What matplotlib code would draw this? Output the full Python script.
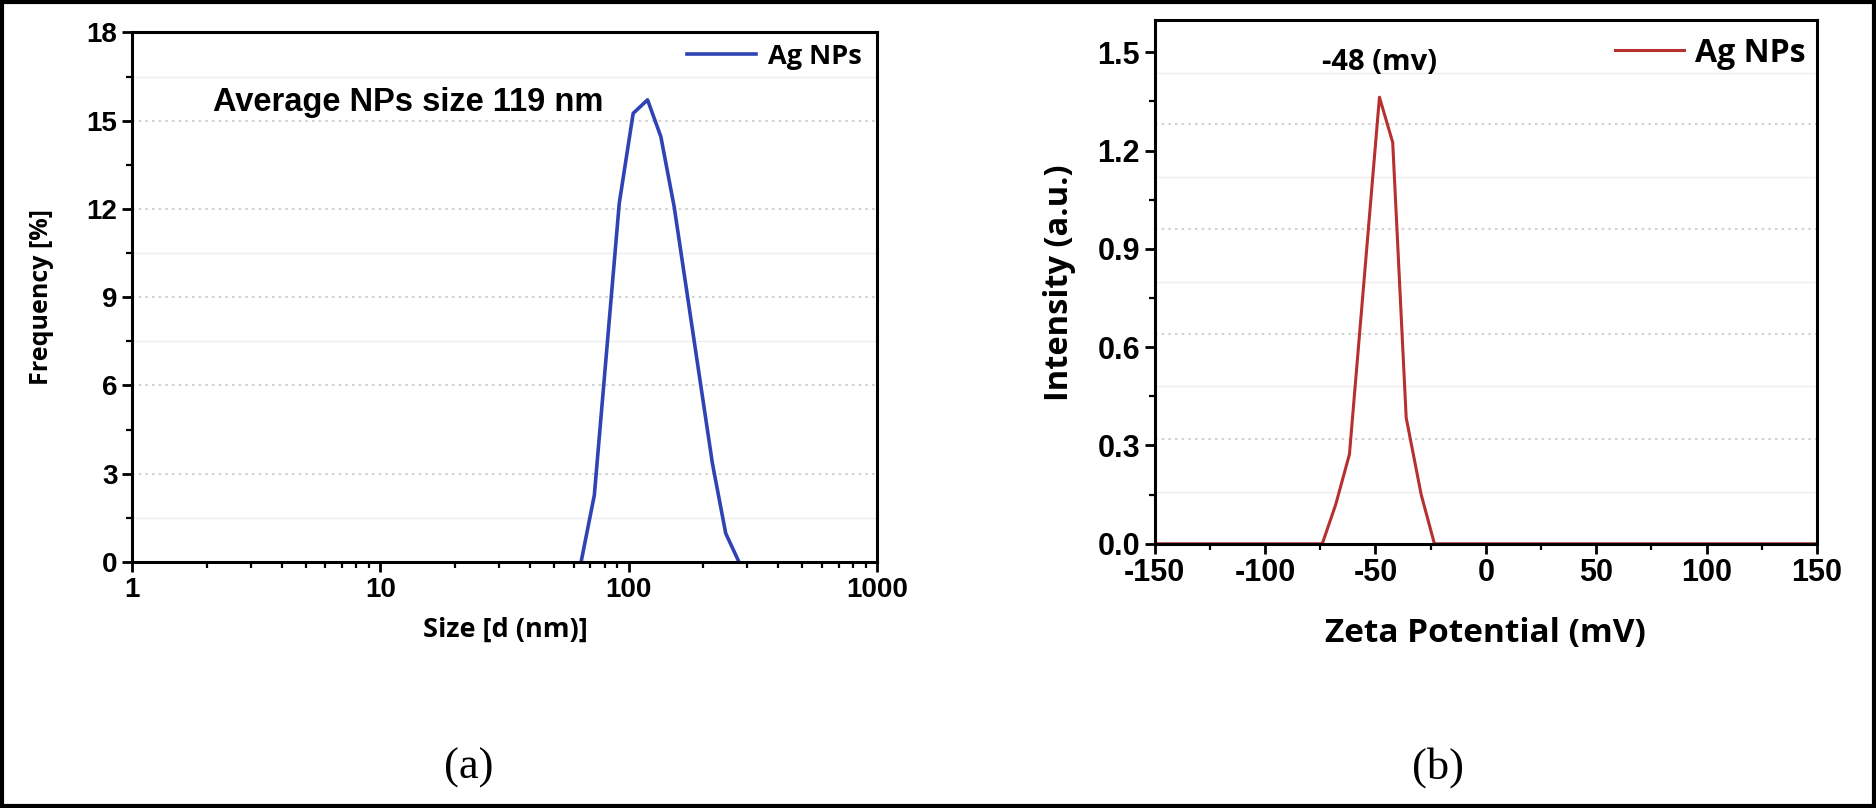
import matplotlib
matplotlib.use("Agg")
import matplotlib.pyplot as plt
from matplotlib.patches import Rectangle
from matplotlib.ticker import MultipleLocator, LogLocator, NullFormatter

# (a) DLS size distribution
size_nm = [64.3, 72.7, 91.6, 104.2, 119.1, 134.7, 152.4, 217.3, 245.9, 278.0]
frequency = [0.0, 2.27, 12.19, 15.25, 15.71, 14.46, 12.08, 3.35, 0.97, 0.0]

# (b) zeta potential distribution
zeta_mv = [-150, -74.1, -68.0, -61.8, -48.2, -42.2, -36.1, -29.3, -23.3, 150]
intensity = [0.0, 0.0, 0.12, 0.273, 1.363, 1.225, 0.385, 0.150, 0.0, 0.0]

size_ticks = [1, 10, 100, 1000]
freq_ticks = [0, 3, 6, 9, 12, 15, 18]
zeta_ticks = [-150, -100, -50, 0, 50, 100, 150]
int_ticks = [0.0, 0.3, 0.6, 0.9, 1.2, 1.5]

# faint grid lines as they appear in the scanned figure
grid_a_dotted = [3, 6, 9, 12, 15]
grid_a_solid = [1.5, 7.5, 10.5, 16.5]
grid_b_dotted = [0.32, 0.64, 0.96, 1.28]
grid_b_solid = [0.157, 0.481, 0.80, 1.119, 1.437]

TICK_FONT = "Liberation Sans"
LABEL_FONT = "Open Sans"

fig = plt.figure(figsize=(18.76, 8.08), dpi=100)
fig.patch.set_facecolor("white")

ax1 = fig.add_axes([0.0704, 0.3045, 0.3971, 0.6553])
ax2 = fig.add_axes([0.6155, 0.3270, 0.3531, 0.6488])


def style_axes(ax, tick_size):
    for sp in ax.spines.values():
        sp.set_linewidth(2.2)
        sp.set_color("black")
    ax.tick_params(which="major", direction="out", length=7, width=2.0,
                   labelsize=tick_size, top=False, right=False)
    ax.tick_params(which="minor", direction="out", length=4, width=1.6,
                   top=False, right=False)
    for lab in ax.get_xticklabels() + ax.get_yticklabels():
        lab.set_fontfamily(TICK_FONT)
        lab.set_fontweight("bold")


# ---- panel (a) ----
for g in grid_a_dotted:
    ax1.axhline(g, color="#c8c8c8", lw=1.2, ls=(0, (1.5, 2.5)), zorder=0)
for g in grid_a_solid:
    ax1.axhline(g, color="#ececec", lw=1.0, zorder=0)

ax1.plot(size_nm, frequency, color="#2f43b4", lw=2.6, label="Ag NPs")
ax1.set_xscale("log")
ax1.set_xlim(1, 1000)
ax1.set_ylim(0, 18)
ax1.set_xticks(size_ticks)
ax1.set_xticklabels([str(t) for t in size_ticks])
ax1.xaxis.set_minor_locator(LogLocator(base=10, subs=range(2, 10)))
ax1.xaxis.set_minor_formatter(NullFormatter())
ax1.set_yticks(freq_ticks)
ax1.yaxis.set_minor_locator(MultipleLocator(1.5))
style_axes(ax1, 20)

ax1.set_xlabel("Size [d (nm)]", fontsize=19.5, fontweight="bold",
               family=LABEL_FONT, va="center")
ax1.xaxis.set_label_coords(0.501, -0.128)
ax1.set_ylabel("Frequency [%]", fontsize=18, fontweight="bold",
               family=LABEL_FONT, va="center")
ax1.yaxis.set_label_coords(-0.121, 0.4995)

ax1.text(0.371, 0.867, "Average NPs size 119 nm", transform=ax1.transAxes,
         ha="center", va="center", fontsize=23.5, fontweight="bold",
         family=TICK_FONT)
ax1.legend(loc="center right", bbox_to_anchor=(0.980, 0.954), frameon=False,
           borderaxespad=0, borderpad=0, handlelength=2.55, handletextpad=0.45,
           prop={"family": LABEL_FONT, "weight": "bold", "size": 19.5})

# ---- panel (b) ----
for g in grid_b_dotted:
    ax2.axhline(g, color="#c8c8c8", lw=1.2, ls=(0, (1.5, 2.5)), zorder=0)
for g in grid_b_solid:
    ax2.axhline(g, color="#ececec", lw=1.0, zorder=0)

ax2.plot(zeta_mv, intensity, color="#b5302f", lw=2.2, label="Ag NPs")
ax2.set_xlim(-150, 150)
ax2.set_ylim(0, 1.6)
ax2.set_xticks(zeta_ticks)
ax2.set_xticklabels([str(t) for t in zeta_ticks])
ax2.xaxis.set_minor_locator(MultipleLocator(25))
ax2.set_yticks(int_ticks)
ax2.set_yticklabels([f"{t:.1f}" for t in int_ticks])
ax2.yaxis.set_minor_locator(MultipleLocator(0.15))
style_axes(ax2, 22)

ax2.set_xlabel("Zeta Potential (mV)", fontsize=24, fontweight="bold",
               family=LABEL_FONT, va="center")
ax2.xaxis.set_label_coords(0.4995, -0.172)
ax2.set_ylabel("Intensity (a.u.)", fontsize=23.5, fontweight="bold",
               family=LABEL_FONT, va="center")
ax2.yaxis.set_label_coords(-0.143, 0.4985)

ax2.text(0.340, 0.919, "-48 (mv)", transform=ax2.transAxes,
         ha="center", va="center", fontsize=21, fontweight="bold",
         family=LABEL_FONT)
ax2.legend(loc="center right", bbox_to_anchor=(0.983, 0.936), frameon=False,
           borderaxespad=0, borderpad=0, handlelength=2.16, handletextpad=0.35,
           prop={"family": LABEL_FONT, "weight": "bold", "size": 23})

# panel captions
fig.text(469 / 1876, 1 - 768 / 808, "(a)", ha="center", va="center",
         fontsize=32, family="Liberation Serif")
fig.text(1438 / 1876, 1 - 768 / 808, "(b)", ha="center", va="center",
         fontsize=32, family="Liberation Serif")

# outer frame
fig.patches.append(Rectangle((0.001, 0.002), 0.998, 0.996, transform=fig.transFigure,
                             fill=False, edgecolor="black", lw=3))

fig.savefig("out.png", dpi=100)
